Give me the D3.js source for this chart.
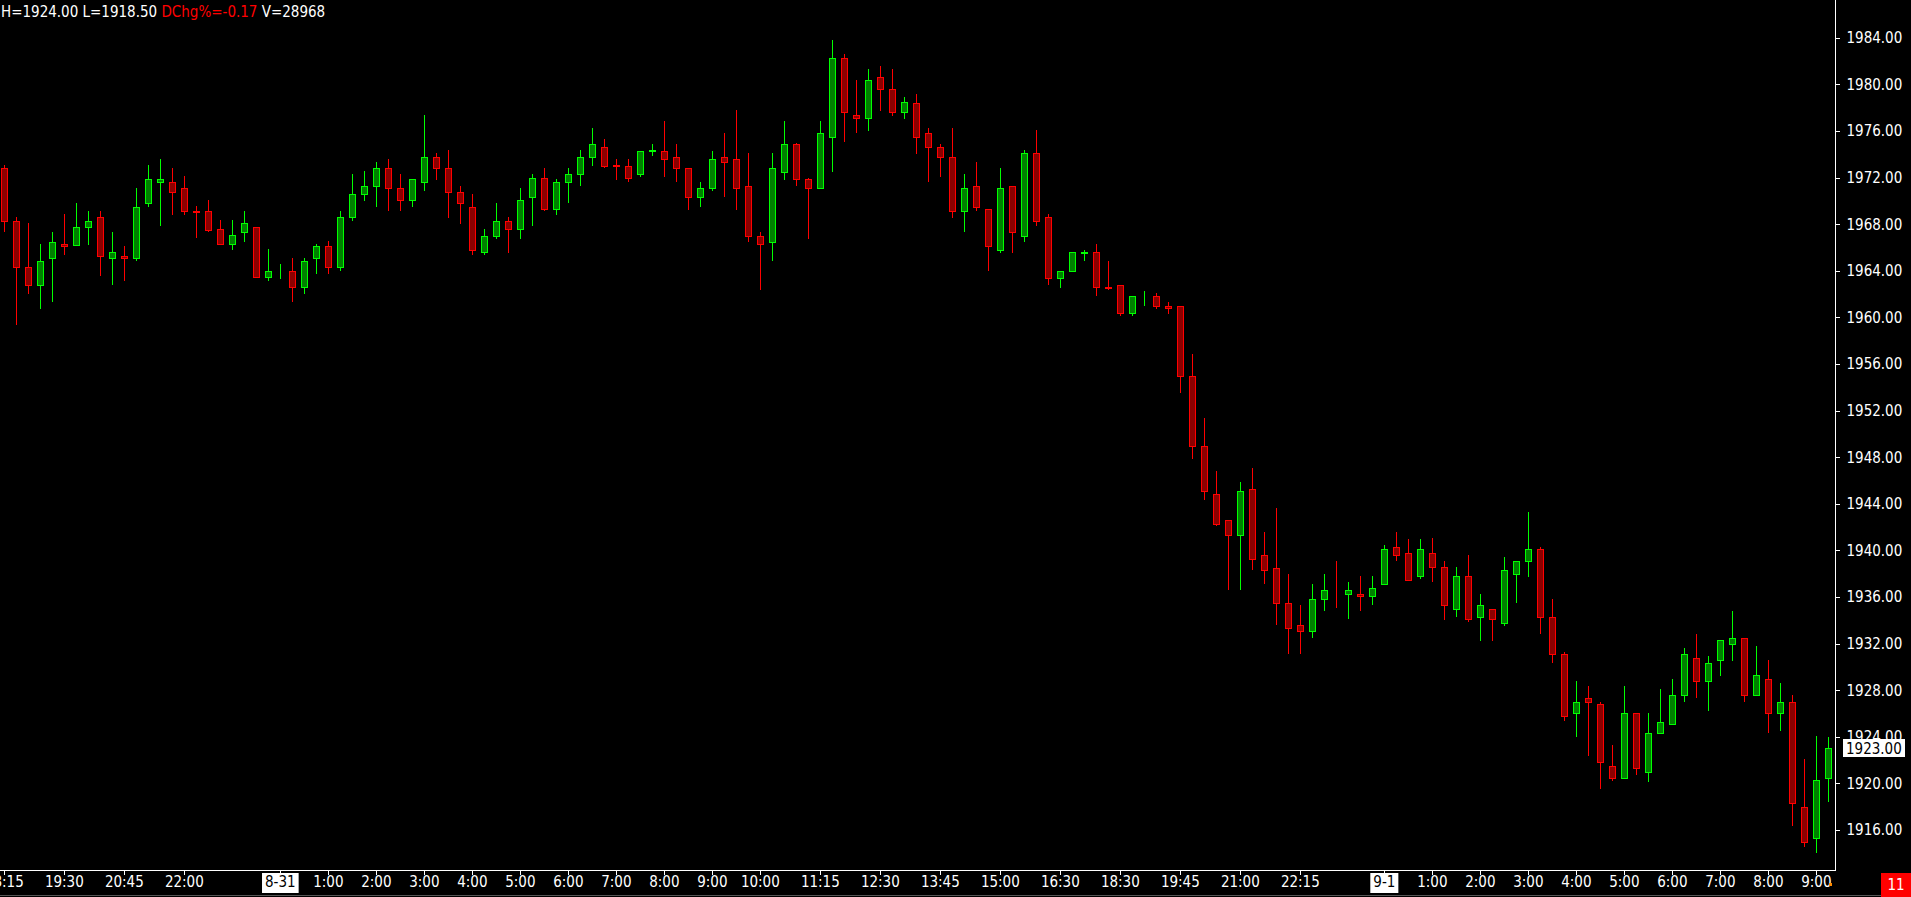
<!DOCTYPE html>
<html><head><meta charset="utf-8">
<script src="https://cdn.jsdelivr.net/npm/d3@7"></script>
<style>html,body{margin:0;padding:0;background:#000;overflow:hidden}svg{display:block}</style>
</head><body><svg id="chart" width="1911" height="897"></svg>
<script>
// ---- data (15-minute bars) ----
const opens = [1972.8,1968.3,1964.3,1962.8,1965.1,1966.3,1966.2,1967.8,1968.6,1965.1,1965.3,1965.1,1969.8,1971.6,1971.6,1971.1,1969.1,1969.1,1967.6,1966.3,1967.3,1967.8,1963.5,1964.3,1964.0,1962.6,1965.1,1966.1,1964.3,1968.6,1970.6,1971.3,1972.8,1971.1,1970.1,1971.6,1973.8,1972.8,1970.8,1969.5,1965.6,1967.0,1968.3,1967.6,1970.3,1972.0,1969.3,1971.6,1972.3,1973.8,1974.6,1973.05,1973.0,1972.3,1974.3,1974.3,1973.8,1972.8,1970.3,1971.1,1973.8,1973.6,1971.3,1967.0,1966.5,1972.5,1974.9,1971.9,1971.1,1975.5,1982.3,1977.4,1977.1,1980.6,1979.6,1977.6,1978.4,1975.8,1974.6,1973.8,1969.1,1971.3,1969.3,1965.8,1971.3,1967.0,1974.1,1968.6,1963.4,1964.0,1965.55,1965.6,1962.6,1962.8,1960.4,1961.8,1961.8,1961.0,1961.0,1955.0,1949.0,1944.8,1942.6,1941.3,1945.3,1939.6,1938.5,1935.5,1933.6,1933.1,1935.8,1936.3,1936.3,1936.3,1936.1,1937.1,1940.3,1939.8,1937.8,1939.8,1938.6,1935.0,1937.8,1934.3,1935.0,1933.8,1938.0,1939.1,1940.1,1934.3,1931.1,1926.0,1927.3,1926.8,1921.5,1920.5,1926.0,1921.0,1924.3,1925.1,1927.6,1930.8,1928.8,1930.6,1932.0,1932.5,1927.6,1929.0,1926.0,1927.0,1918.0,1915.3,1920.5];
const highs = [1973.1,1968.6,1968.1,1966.3,1967.3,1968.9,1969.8,1969.1,1969.1,1967.3,1966.1,1971.1,1973.1,1973.6,1972.8,1972.1,1969.6,1970.1,1968.4,1968.4,1969.1,1967.8,1965.9,1964.6,1965.1,1965.1,1966.3,1966.6,1969.1,1972.3,1972.6,1973.3,1973.6,1972.3,1971.9,1977.4,1974.1,1974.4,1971.3,1970.6,1967.6,1969.8,1968.6,1971.1,1972.3,1972.8,1971.9,1972.8,1974.4,1976.3,1975.3,1973.6,1973.6,1974.3,1974.9,1976.9,1974.9,1972.8,1971.6,1974.3,1975.8,1977.8,1974.1,1967.3,1974.1,1976.9,1975.0,1972.0,1976.9,1983.8,1982.6,1980.4,1981.3,1981.6,1981.3,1978.9,1979.2,1976.3,1974.9,1976.3,1972.3,1973.3,1969.3,1972.8,1971.3,1974.4,1976.1,1968.9,1964.0,1965.6,1965.8,1966.3,1964.8,1962.8,1961.8,1962.3,1962.1,1961.3,1961.0,1956.9,1951.4,1946.8,1942.6,1945.9,1947.1,1941.6,1943.6,1938.0,1935.3,1937.1,1938.0,1939.1,1937.3,1937.8,1937.8,1940.5,1941.6,1941.0,1941.0,1941.1,1939.1,1938.6,1939.6,1936.3,1935.0,1939.4,1939.1,1943.3,1940.3,1935.8,1931.3,1928.8,1928.4,1927.0,1923.3,1928.4,1926.0,1926.0,1928.1,1929.0,1931.6,1932.8,1930.9,1932.3,1934.8,1932.5,1931.8,1930.6,1928.6,1927.6,1922.1,1924.1,1924.0];
const lows = [1967.4,1959.4,1962.1,1960.8,1961.4,1965.4,1966.2,1966.3,1963.6,1962.9,1963.2,1964.9,1969.6,1967.9,1968.9,1968.9,1966.9,1967.4,1966.3,1965.9,1966.6,1963.5,1963.2,1963.4,1961.4,1962.1,1963.8,1963.8,1964.1,1968.4,1970.1,1969.6,1969.2,1969.2,1969.6,1970.9,1971.9,1968.6,1968.1,1965.4,1965.4,1966.8,1965.6,1966.8,1967.9,1969.2,1968.9,1969.9,1971.4,1973.1,1972.9,1971.9,1971.7,1972.1,1973.9,1972.1,1971.7,1969.3,1969.6,1970.9,1970.4,1969.3,1966.6,1962.4,1964.9,1971.9,1971.4,1966.8,1971.1,1972.6,1975.1,1975.9,1976.1,1977.8,1977.4,1977.1,1974.1,1971.7,1972.1,1968.6,1967.4,1969.2,1964.1,1965.6,1965.6,1966.6,1967.9,1962.9,1962.6,1964.0,1964.9,1961.9,1962.4,1960.2,1960.2,1961.1,1960.8,1960.4,1953.6,1947.9,1944.4,1942.2,1936.7,1936.7,1938.4,1937.2,1933.7,1931.2,1931.2,1932.6,1934.9,1935.1,1934.2,1934.9,1935.4,1937.1,1939.2,1937.5,1937.6,1937.4,1934.1,1934.4,1933.9,1932.3,1932.3,1933.6,1935.6,1937.8,1932.9,1930.4,1925.4,1924.1,1922.4,1919.6,1920.3,1920.5,1920.8,1920.2,1924.3,1925.1,1927.1,1927.4,1926.3,1929.3,1930.6,1927.1,1927.6,1924.4,1924.6,1916.4,1914.6,1914.1,1918.5];
const closes = [1968.3,1964.3,1962.8,1964.8,1966.5,1966.1,1967.8,1968.3,1965.3,1965.6,1965.1,1969.5,1971.9,1971.9,1970.8,1969.1,1969.05,1967.5,1966.3,1967.1,1968.1,1963.5,1964.0,1964.35,1962.6,1964.8,1966.1,1964.3,1968.6,1970.6,1971.3,1972.8,1971.1,1970.1,1971.9,1973.8,1972.8,1970.8,1969.8,1965.8,1967.0,1968.3,1967.6,1970.1,1972.0,1969.3,1971.6,1972.3,1973.8,1974.9,1973.0,1973.0,1972.0,1974.3,1974.35,1973.6,1972.8,1970.3,1971.1,1973.6,1973.3,1971.1,1967.0,1966.3,1972.8,1974.9,1971.9,1971.1,1975.8,1982.3,1977.6,1977.1,1980.4,1979.6,1977.6,1978.5,1975.5,1974.6,1973.8,1969.1,1971.1,1969.5,1966.1,1971.1,1967.3,1974.1,1968.3,1963.4,1964.0,1965.6,1965.6,1962.6,1962.55,1960.4,1961.8,1961.85,1961.0,1960.8,1955.0,1949.0,1945.1,1942.3,1941.3,1945.1,1939.3,1938.3,1935.5,1933.3,1933.1,1935.8,1936.6,1936.25,1936.6,1936.1,1936.8,1940.1,1939.6,1937.5,1940.1,1938.6,1935.3,1937.8,1934.1,1935.3,1934.1,1938.3,1939.1,1940.1,1934.3,1931.1,1925.8,1927.0,1927.0,1921.8,1920.5,1926.0,1921.3,1924.3,1925.3,1927.6,1931.1,1928.8,1930.3,1932.3,1932.5,1927.6,1929.3,1926.0,1927.0,1918.3,1915.0,1920.3,1923.0];

const tickIndex  = [0,5,10,15,23,27,31,35,39,43,47,51,55,59,63,68,73,78,83,88,93,98,103,108,115,119,123,127,131,135,139,143,147,151];
const tickLabels = ["18:15","19:30","20:45","22:00","8-31","1:00","2:00","3:00","4:00","5:00","6:00","7:00","8:00","9:00","10:00","11:15","12:30","13:45","15:00","16:30","18:30","19:45","21:00","22:15","9-1","1:00","2:00","3:00","4:00","5:00","6:00","7:00","8:00","9:00"];
const dateTickIndex = [23,115];
const priceTicks = [1916,1920,1924,1928,1932,1936,1940,1944,1948,1952,1956,1960,1964,1968,1972,1976,1980,1984];
const headerParts = ["H=1924.00 L=1918.50 ","DChg%=-0.17"," V=28968"];
const headerColors = ["#ffffff","#ff0000","#ffffff"];
const lastPrice = 1923.00;
const cornerLabel = "11";

// ---- layout ----
const W = 1911, H = 897;
const plotRight = 1835, plotBottom = 870;
const FONT = "'DejaVu Sans Condensed','DejaVu Sans',sans-serif";
const svg = d3.select("#chart");
svg.append("rect").attr("width", W).attr("height", H).attr("fill", "#000");

const n = opens.length;
const step = 12;
const x = d3.scaleBand().domain(d3.range(n)).range([-1.67, -1.67 + n * step]).padding(0);
const y = d3.scaleLinear().domain([1916, 1984]).range([830, 37.8]);
const cx = i => Math.floor(x(i) + x.bandwidth() / 2);

const data = d3.range(n).map(i => ({i, o: opens[i], h: highs[i], l: lows[i], c: closes[i]}));
const up = d => d.c >= d.o;

const g = svg.append("g").attr("class", "candles").attr("shape-rendering", "crispEdges");
const cand = g.selectAll("g.c").data(data).join("g").attr("class", "c");
cand.append("line")
  .attr("x1", d => cx(d.i) + 0.5).attr("x2", d => cx(d.i) + 0.5)
  .attr("y1", d => Math.round(y(d.h))).attr("y2", d => Math.round(y(d.l)) + 1)
  .attr("stroke", d => up(d) ? "#00ff00" : "#ff0000").attr("stroke-width", 1);
cand.append("rect")
  .attr("x", d => cx(d.i) - 2.5)
  .attr("width", 6)
  .attr("y", d => Math.round(y(Math.max(d.o, d.c))) + 0.5)
  .attr("height", d => Math.max(0, Math.round(y(Math.min(d.o, d.c))) - Math.round(y(Math.max(d.o, d.c)))))
  .attr("fill", d => up(d) ? "#008000" : "#8b0000")
  .attr("stroke", d => up(d) ? "#00ff00" : "#ff0000").attr("stroke-width", 1);

// ---- right price axis ----
const yAxis = d3.axisRight(y).tickValues(priceTicks).tickFormat(d3.format(".2f")).tickSize(4).tickSizeOuter(0).tickPadding(7);
const ya = svg.append("g").attr("transform", `translate(${plotRight + 0.5},0)`).call(yAxis);
ya.select(".domain").remove();
ya.selectAll(".tick line").attr("stroke", "#ffffff").attr("shape-rendering", "crispEdges");
ya.selectAll(".tick text").attr("fill", "#ffffff").style("font-family", FONT).style("font-size", "15px");

// ---- bottom time axis ----
const labelOf = {};
tickIndex.forEach((t, k) => labelOf[t] = tickLabels[k]);
const xAxis = d3.axisBottom(x).tickValues(tickIndex).tickFormat(i => labelOf[i]).tickSize(4).tickSizeOuter(0).tickPadding(3);
const xa = svg.append("g").attr("transform", `translate(0,${plotBottom + 0.5})`).call(xAxis);
xa.select(".domain").remove();
xa.selectAll(".tick line").attr("stroke", "#ffffff").attr("shape-rendering", "crispEdges");
xa.selectAll(".tick text").attr("fill", "#ffffff").style("font-family", FONT).style("font-size", "15px")
  .attr("y", 6).attr("dy", "0.71em");
// date boxes
xa.selectAll(".tick").filter(d => dateTickIndex.includes(d)).each(function(d) {
  const t = d3.select(this);
  const txt = t.select("text");
  const w = txt.node().getComputedTextLength() + 6;
  t.insert("rect", "text").attr("x", -w / 2).attr("y", 2.5).attr("width", w).attr("height", 20).attr("fill", "#ffffff");
  txt.attr("fill", "#000000");
});

// axis lines
svg.append("line").attr("x1", 0).attr("x2", plotRight + 0.5).attr("y1", plotBottom + 0.5).attr("y2", plotBottom + 0.5)
  .attr("stroke", "#ffffff").attr("shape-rendering", "crispEdges");
svg.append("line").attr("x1", plotRight + 0.5).attr("x2", plotRight + 0.5).attr("y1", 0).attr("y2", plotBottom + 0.5)
  .attr("stroke", "#ffffff").attr("shape-rendering", "crispEdges");
svg.append("line").attr("x1", 0).attr("x2", W).attr("y1", H - 1.5).attr("y2", H - 1.5)
  .attr("stroke", "#555555").attr("shape-rendering", "crispEdges");

// last price box
const py = y(lastPrice);
svg.append("rect").attr("x", plotRight + 8).attr("y", Math.round(py) - 9).attr("width", 62).attr("height", 18).attr("fill", "#ffffff");
svg.append("text").attr("x", plotRight + 11).attr("y", py).attr("dy", "0.36em").attr("fill", "#000")
  .style("font-family", FONT).style("font-size", "15px").text(d3.format(".2f")(lastPrice));

// corner label
svg.append("rect").attr("x", 1881).attr("y", 873).attr("width", 30).attr("height", 24).attr("fill", "#ff0000");
svg.append("text").attr("x", 1896).attr("y", 885).attr("dy", "0.36em").attr("text-anchor", "middle").attr("fill", "#fff")
  .style("font-family", FONT).style("font-size", "15px").text(cornerLabel);
svg.append("rect").attr("x", 1829).attr("y", 883).attr("width", 3).attr("height", 3).attr("fill", "#ff8c00");

// header
const ht = svg.append("text").attr("x", 1).attr("y", 17).style("font-family", FONT).style("font-size", "15px");
headerParts.forEach((p, k) => ht.append("tspan").attr("fill", headerColors[k]).attr("xml:space", "preserve").text(p));
ht.style("white-space", "pre");
</script>
</body></html>
